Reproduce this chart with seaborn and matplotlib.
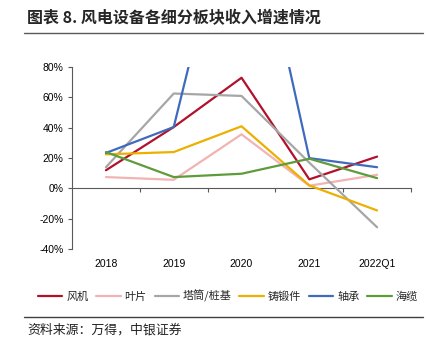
import matplotlib
matplotlib.use("Agg")
import matplotlib.pyplot as plt
import seaborn as sns
import pandas as pd
import numpy as np
from matplotlib.lines import Line2D

sns.set_theme(style="white")
plt.rcParams["font.family"] = ["Liberation Sans", "Noto Sans CJK SC", "DejaVu Sans"]

periods = ["2018", "2019", "2020", "2021", "2022Q1"]
series_names = ["风机", "叶片", "塔筒/桩基", "铸锻件", "轴承", "海缆"]
fengji = [12.0, 40.5, 73.0, 6.0, 21.0]
yepian = [7.5, 5.7, 35.7, 1.8, 9.0]
tatong = [14.0, 62.6, 61.0, 17.0, -25.6]
zhuduan = [22.5, 24.0, 41.0, 2.0, -14.5]
zhoucheng = [23.4, 40.5, 222.0, 20.0, 14.0]
hailan = [24.0, 7.5, 9.7, 19.6, 6.8]
colors = ["#B0122B", "#F2B3B3", "#A6A6A6", "#EBB000", "#3F6BBE", "#5E9C3A"]

values = [fengji, yepian, tatong, zhuduan, zhoucheng, hailan]
df = pd.DataFrame(
    [(i, name, v) for name, vals in zip(series_names, values) for i, v in enumerate(vals)],
    columns=["pos", "series", "value"],
)

fig = plt.figure(figsize=(4.34, 3.46), dpi=100)
ax = fig.add_axes([0.166, 0.280, 0.781, 0.526])

sns.lineplot(data=df, x="pos", y="value", hue="series", hue_order=series_names,
             palette=colors, linewidth=1.6, ax=ax, legend=False, sort=False)

ax.set_xlim(-0.5, 4.5)
ax.set_ylim(-40, 80)
ax.set_xlabel("")
ax.set_ylabel("")

for s in ["top", "right", "bottom"]:
    ax.spines[s].set_visible(False)
ax.spines["left"].set_color("#595959")
ax.spines["left"].set_linewidth(0.8)

ax.set_yticks(np.arange(-40, 81, 20))
ax.set_yticklabels([f"{int(v)}%" for v in np.arange(-40, 81, 20)])
ax.tick_params(axis="y", direction="out", length=3, width=0.8, color="#595959",
               labelsize=7.5, labelcolor="#000000", pad=3, left=True)

ax.set_xticks(range(len(periods)))
ax.set_xticklabels(periods)
ax.tick_params(axis="x", length=0, labelsize=7.5, labelcolor="#000000", pad=7, bottom=True)

# zero line with category boundary ticks
zero_axis = ax.secondary_xaxis(40 / 120)
zero_axis.spines["bottom"].set_color("#595959")
zero_axis.spines["bottom"].set_linewidth(0.8)
zero_axis.set_xticks(np.arange(0.5, 4.6, 1.0))
zero_axis.set_xticklabels([])
zero_axis.tick_params(axis="x", direction="out", length=3, width=0.8, color="#595959")

# title and rules
fig.text(0.062, 0.947, "图表 8. 风电设备各细分板块收入增速情况", fontsize=11.5, fontweight="bold",
         family=["Noto Sans CJK SC", "DejaVu Sans"], va="center", ha="left")
fig.add_artist(Line2D([0.055, 0.975], [0.905, 0.905], color="#595959", linewidth=1.0))
fig.add_artist(Line2D([0.055, 0.975], [0.083, 0.083], color="#404040", linewidth=1.0))
fig.text(0.062, 0.045, "资料来源：万得，中银证券", fontsize=9.3, style="italic",
         family=["Noto Sans CJK SC", "DejaVu Sans"], va="center", ha="left", color="#222222")

handles = [Line2D([0], [0], color=c, linewidth=1.6) for c in colors]
leg = fig.legend(handles, series_names, loc="center", bbox_to_anchor=(0.525, 0.145), ncol=6,
                 frameon=False, handlelength=2.2, handletextpad=0.35, columnspacing=0.7,
                 prop={"family": ["Noto Sans CJK SC", "DejaVu Sans"], "size": 8})

fig.savefig("out.png", dpi=100)
